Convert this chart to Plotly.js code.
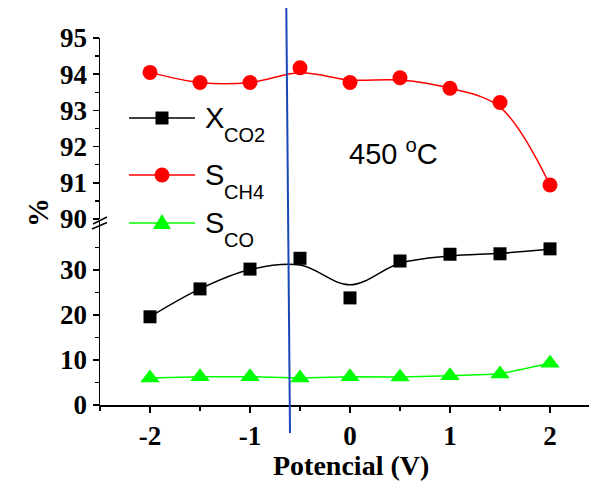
<!DOCTYPE html>
<html>
<head>
<meta charset="utf-8">
<script src="https://cdn.plot.ly/plotly-3.0.1.min.js"></script>
<style>html,body{margin:0;padding:0;background:#fff;}#chart{width:589px;height:481px;}</style>
</head>
<body>
<div id="chart"></div>
<script>
// ---- data ----
const potential = [-2, -1.5, -1, -0.5, 0, 0.5, 1, 1.5, 2];
const xCO2 = [19.6, 25.8, 30.2, 32.6, 23.8, 32.0, 33.5, 33.6, 34.7];
const xCO2Fit = [19.6, 25.8, 30.1, 31.1, 26.7, 31.5, 33.1, 33.7, 34.6];
const sCH4 = [94.05, 93.77, 93.77, 94.18, 93.77, 93.90, 93.61, 93.22, 90.94];
const sCH4Fit = [94.05, 93.77, 93.77, 94.04, 93.84, 93.84, 93.61, 93.09, 90.94];
const sCO = [6.0, 6.3, 6.3, 6.0, 6.3, 6.2, 6.5, 6.9, 9.3];
const xTickVals = [-2, -1, 0, 1, 2];
const yUpperTicks = [90, 91, 92, 93, 94, 95];
const yLowerTicks = [0, 10, 20, 30];
const yLowerMinor = [5, 15, 25, 35];
const seriesMain = ['X', 'S', 'S'];
const seriesSub = ['CO2', 'CH4', 'CO'];
const tempLabel = '450 <sup>o</sup>C';
const xTitle = 'Potencial (V)';
const yTitle = '%';

// ---- styles ----
const cBlack = '#000000', cRed = '#ff0000', cGreen = '#00ff00', cBlue = '#1a47b8';
const serif = 'Liberation Serif, Times New Roman, serif';
const tickFont = {family: serif, size: 27, color: '#000', weight: 'bold'};
const sans = 'Liberation Sans, Arial, sans-serif';

const traces = [
  {x: potential, y: xCO2Fit, xaxis: 'x', yaxis: 'y2', mode: 'lines', line: {color: cBlack, width: 1.5, shape: 'spline'}, hoverinfo: 'skip'},
  {x: potential, y: xCO2, xaxis: 'x', yaxis: 'y2', mode: 'markers', marker: {symbol: 'square', size: 13, color: cBlack}},
  {x: potential, y: sCH4Fit, xaxis: 'x', yaxis: 'y', mode: 'lines', line: {color: cRed, width: 1.5, shape: 'spline'}, hoverinfo: 'skip'},
  {x: potential, y: sCH4, xaxis: 'x', yaxis: 'y', mode: 'markers', marker: {symbol: 'circle', size: 15, color: cRed}},
  {x: potential, y: sCO, xaxis: 'x', yaxis: 'y2', mode: 'lines+markers', line: {color: cGreen, width: 1.5}, marker: {symbol: 'triangle-up', size: 17, color: cGreen}}
];

// layout helpers
const plotTop = 38, plotBottom = 405, plotH = plotBottom - plotTop;
const pY = px => (plotBottom - px) / plotH;   // pixel row -> paper y
const pX = px => (px - 100) / 489;            // pixel column -> paper x

// manual legend
const legendRows = [118, 175, 223];
const shapes = [];
const annotations = [];
const legendColors = [cBlack, cRed, cGreen];
legendRows.forEach((row, i) => {
  shapes.push({type: 'line', xref: 'paper', yref: 'paper', x0: pX(129), x1: pX(195), y0: pY(row), y1: pY(row), line: {color: legendColors[i], width: 1.5}});
  annotations.push({xref: 'paper', yref: 'paper', x: pX(203), y: pY(row), xanchor: 'left', yanchor: 'middle',
    text: seriesMain[i], showarrow: false, font: {family: sans, size: 29, color: '#000'}});
  annotations.push({xref: 'paper', yref: 'paper', x: pX(222), y: pY(row + 17), xanchor: 'left', yanchor: 'middle',
    text: seriesSub[i], showarrow: false, font: {family: sans, size: 20, color: '#000'}});
});
// legend markers
shapes.push({type: 'rect', xref: 'paper', yref: 'paper', xsizemode: 'pixel', ysizemode: 'pixel', xanchor: pX(162), yanchor: pY(legendRows[0]),
  x0: -6.5, x1: 6.5, y0: -6.5, y1: 6.5, fillcolor: cBlack, line: {width: 0}});
shapes.push({type: 'circle', xref: 'paper', yref: 'paper', xsizemode: 'pixel', ysizemode: 'pixel', xanchor: pX(162), yanchor: pY(legendRows[1]),
  x0: -7.5, x1: 7.5, y0: -7.5, y1: 7.5, fillcolor: cRed, line: {width: 0}});
shapes.push({type: 'path', xref: 'paper', yref: 'paper', xsizemode: 'pixel', ysizemode: 'pixel', xanchor: pX(162), yanchor: pY(legendRows[2]),
  path: 'M-9,-6 L9,-6 L0,9 Z', fillcolor: cGreen, line: {width: 0}});

// axis break marks
const brk = pY(223);
shapes.push({type: 'line', xref: 'paper', yref: 'paper', xsizemode: 'pixel', ysizemode: 'pixel', xanchor: 0, yanchor: brk,
  x0: -7, x1: 7, y0: -1, y1: 6, line: {color: '#000', width: 1.5}});
shapes.push({type: 'line', xref: 'paper', yref: 'paper', xsizemode: 'pixel', ysizemode: 'pixel', xanchor: 0, yanchor: brk,
  x0: -8, x1: 7, y0: -6, y1: 0.5, line: {color: '#000', width: 1.5}});

// blue vertical marker line
shapes.push({type: 'line', xref: 'x', yref: 'paper', x0: -0.637, x1: -0.60, y0: pY(8), y1: pY(433), line: {color: cBlue, width: 2}});

annotations.push({xref: 'paper', yref: 'paper', x: pX(347), y: pY(152), xanchor: 'left', yanchor: 'middle',
  text: tempLabel, showarrow: false, font: {family: sans, size: 29, color: '#000'}});
annotations.push({xref: 'paper', yref: 'paper', x: pX(351), y: pY(466), xanchor: 'center', yanchor: 'middle',
  text: xTitle, showarrow: false, font: {family: serif, size: 28, color: '#000', weight: 'bold'}});
annotations.push({xref: 'paper', yref: 'paper', x: pX(38), y: pY(213), xanchor: 'center', yanchor: 'middle', textangle: -90,
  text: yTitle, showarrow: false, font: {family: serif, size: 29, color: '#000', weight: 'bold'}});

const axisBase = {showgrid: false, zeroline: false, showline: true, linecolor: '#000', linewidth: 1.5,
  ticks: 'outside', ticklen: 6, tickwidth: 1.5, tickcolor: '#000', tickmode: 'array', tickfont: tickFont};

const layout = {
  width: 589, height: 481,
  margin: {l: 100, r: 0, t: plotTop, b: 481 - plotBottom},
  paper_bgcolor: '#fff', plot_bgcolor: '#fff',
  showlegend: false,
  xaxis: Object.assign({}, axisBase, {anchor: 'y2', domain: [0, 1], range: [-2.5, 2.39],
    tickvals: xTickVals, ticktext: xTickVals.map(String),
    minor: {dtick: 0.5, ticks: 'outside', ticklen: 4, tickwidth: 1.5, tickcolor: '#000'}}),
  yaxis: Object.assign({}, axisBase, {anchor: 'x', domain: [pY(219), 1], range: [90, 95],
    tickvals: yUpperTicks, ticktext: yUpperTicks.map(String),
    minor: {dtick: 0.5, tick0: 90, ticks: 'outside', ticklen: 4, tickwidth: 1.5, tickcolor: '#000'}}),
  yaxis2: Object.assign({}, axisBase, {anchor: 'x', domain: [0, pY(221)], range: [0, (plotBottom - 221) / 4.5],
    tickvals: yLowerTicks, ticktext: yLowerTicks.map(String),
    minor: {tickmode: 'array', tickvals: yLowerMinor, ticks: 'outside', ticklen: 4, tickwidth: 1.5, tickcolor: '#000'}}),
  shapes: shapes,
  annotations: annotations
};

Plotly.newPlot('chart', traces, layout, {staticPlot: true, displayModeBar: false});
</script>
</body>
</html>
